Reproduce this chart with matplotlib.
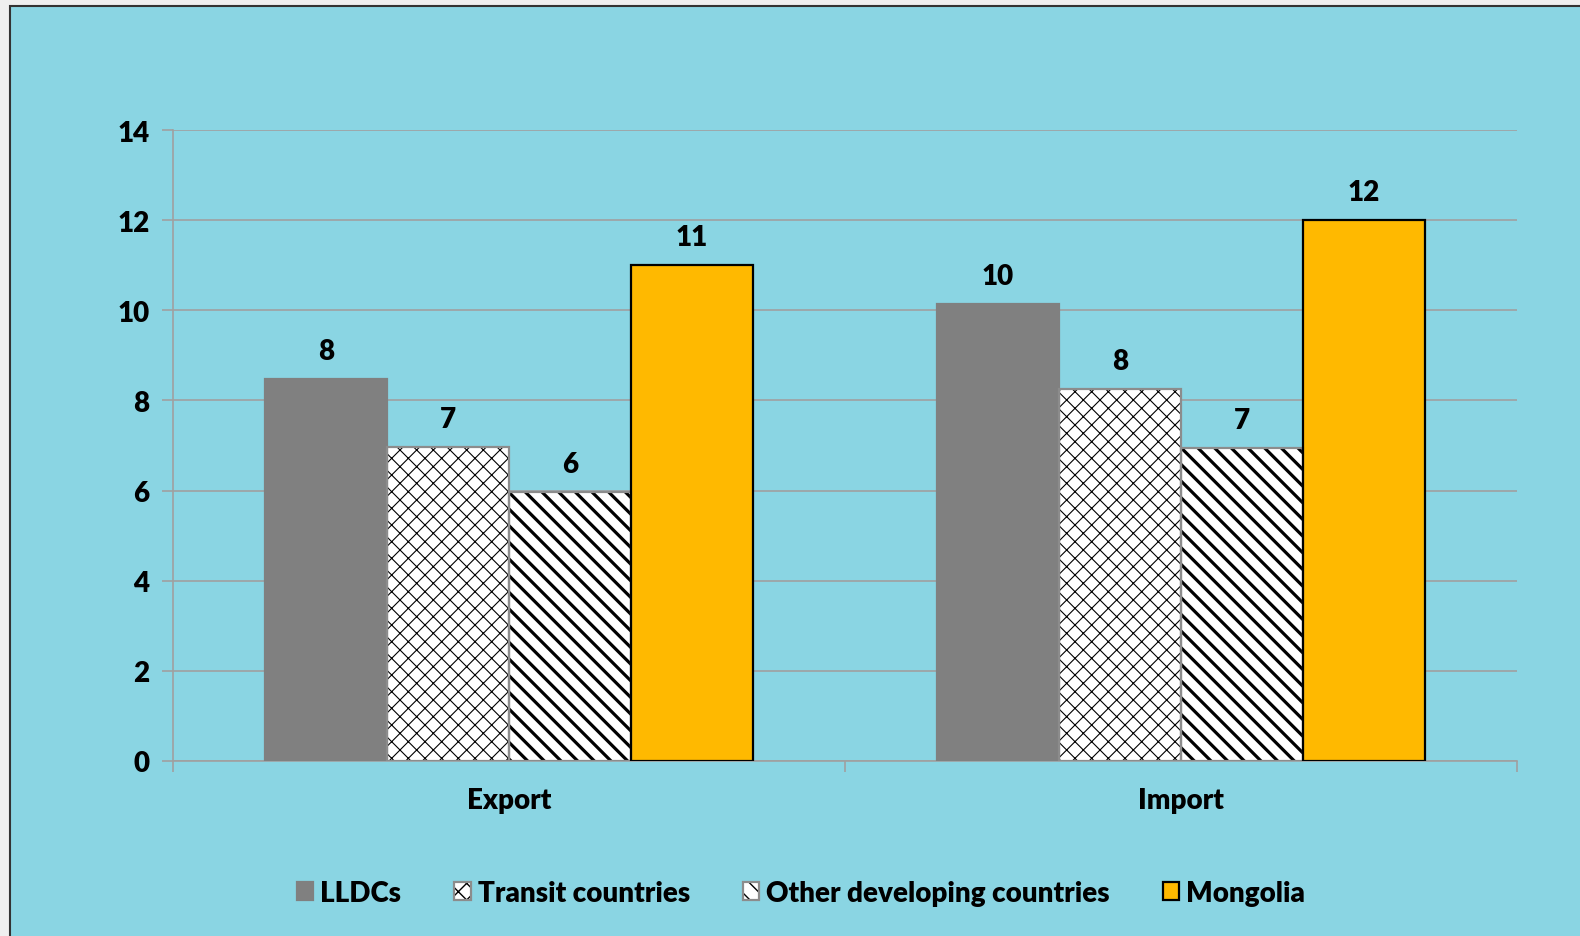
import matplotlib.pyplot as plt
import numpy as np
from matplotlib.patches import Rectangle
from matplotlib.legend_handler import HandlerTuple

categories = ['Export', 'Import']
series = ['LLDCs', 'Transit countries', 'Other developing countries', 'Mongolia']
values = {
    'LLDCs': [8.48, 10.14],
    'Transit countries': [6.97, 8.25],
    'Other developing countries': [5.97, 6.94],
    'Mongolia': [11.0, 12.0],
}
labels = {
    'LLDCs': ['8', '10'],
    'Transit countries': ['7', '8'],
    'Other developing countries': ['6', '7'],
    'Mongolia': ['11', '12'],
}

plt.rcParams['font.family'] = ['Lato', 'DejaVu Sans']
plt.rcParams['font.weight'] = 'heavy'
FS = 20

BG = '#8AD5E3'
styles = {
    'LLDCs': dict(color='#808080', edgecolor='#808080', hatch=None, hlw=1),
    'Transit countries': dict(color='white', edgecolor='#8c8c8c', hatch='xx', hlw=0.8),
    'Other developing countries': dict(color='white', edgecolor='#8c8c8c', hatch='\\\\', hlw=2.3),
    'Mongolia': dict(color='#FFB900', edgecolor='black', hatch=None, hlw=1),
}

fig = plt.figure(figsize=(15.8, 9.37), dpi=100)
fig.patch.set_facecolor('#efefef')
fig.patches.append(Rectangle((10 / 1580, -0.05), 1.05, 1 - 7 / 937 + 0.05,
                             transform=fig.transFigure, facecolor=BG,
                             edgecolor='#333333', linewidth=1.5, zorder=-1))

ax = fig.add_axes([173 / 1580, 1 - 762 / 937, (1517 - 173) / 1580, (762 - 131) / 937])
ax.set_facecolor('none')
ax.set_zorder(2)

x = np.arange(len(categories))
w = 0.1815
handles = []
for i, s in enumerate(series):
    st = styles[s]
    pos = x + (i - 1.5) * w
    with plt.rc_context({'hatch.linewidth': st['hlw']}):
        # fill + hatch (hatch takes the edge colour), then outline on top
        fill = ax.bar(pos, values[s], w, color=st['color'], edgecolor='black',
                      hatch=st['hatch'], linewidth=0, zorder=3)
    outline = ax.bar(pos, values[s], w, color='none', edgecolor=st['edgecolor'],
                     linewidth=1.6, zorder=4)
    handles.append((fill, outline))
    for b, lab in zip(fill, labels[s]):
        ax.text(b.get_x() + b.get_width() / 2, b.get_height() + 0.33, lab,
                ha='center', va='bottom', fontsize=FS, fontweight='heavy')

ax.set_xlim(-0.5, 1.5)
ax.set_ylim(0, 14)
ax.set_yticks(range(0, 15, 2))
ax.yaxis.grid(True, color='#a0a0a0', linewidth=1.2, zorder=0)
ax.set_axisbelow(True)
ax.set_xticks([-0.5, 0.5, 1.5])
ax.set_xticklabels([])
ax.set_xticks(x, minor=True)
ax.set_xticklabels(categories, minor=True, fontsize=FS, fontweight='heavy')
ax.tick_params(axis='x', which='minor', length=0, pad=19)
ax.tick_params(axis='x', which='major', length=8, color='#a0a0a0', width=1.2)
ax.tick_params(axis='y', length=8, color='#a0a0a0', width=1.2, labelsize=FS, pad=9)
for lab in ax.get_yticklabels():
    lab.set_fontweight('heavy')
for sp in ['top', 'right']:
    ax.spines[sp].set_visible(False)
for sp in ['left', 'bottom']:
    ax.spines[sp].set_color('#a0a0a0')
    ax.spines[sp].set_linewidth(1.2)

leg = fig.legend(handles, series, loc='center', bbox_to_anchor=(801 / 1580, 1 - 894 / 937),
                 ncol=4, frameon=False, fontsize=FS, handlelength=0.6, handleheight=0.6,
                 handletextpad=0.25, columnspacing=1.9,
                 handler_map={tuple: HandlerTuple(ndivide=1, pad=0)})

fig.savefig('out.png', dpi=100, facecolor=fig.get_facecolor())
